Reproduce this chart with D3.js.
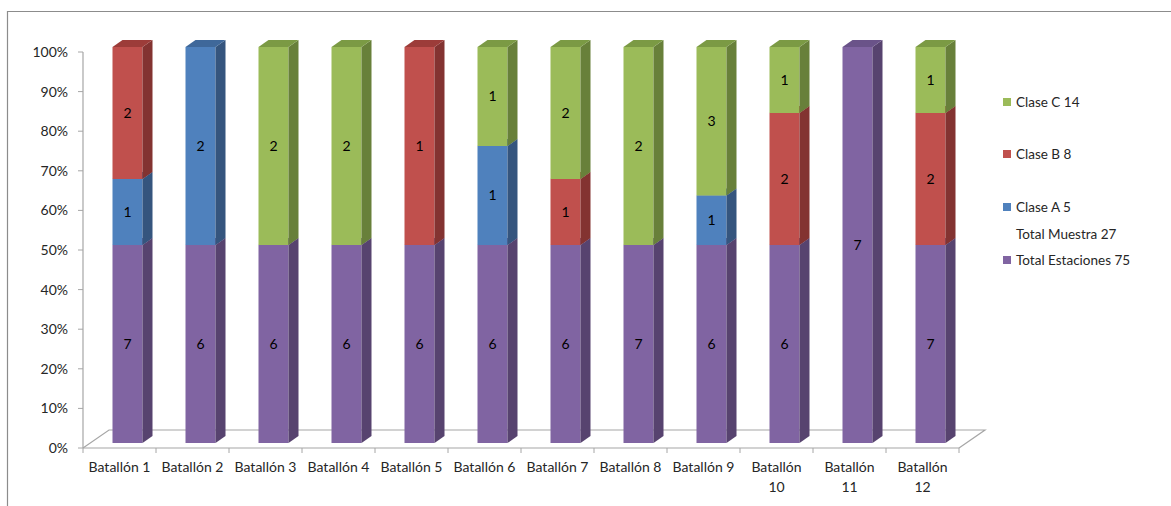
<!DOCTYPE html>
<html>
<head>
<meta charset="utf-8">
<script src="https://cdn.jsdelivr.net/npm/d3@7"></script>
<style>
html,body{margin:0;padding:0;background:#fff;}
svg{display:block;font-family:Lato, "Liberation Sans", sans-serif;}
</style>
</head>
<body>
<svg id="chart" width="1171" height="506"></svg>
<script>
const categories = ["Batallón 1","Batallón 2","Batallón 3","Batallón 4","Batallón 5","Batallón 6","Batallón 7","Batallón 8","Batallón 9","Batallón 10","Batallón 11","Batallón 12"];
const totalEstaciones = [7,6,6,6,6,6,6,7,6,6,7,7];
const claseA = [1,2,0,0,0,1,0,0,1,0,0,0];
const claseB = [2,0,0,0,1,0,1,0,0,2,0,2];
const claseC = [0,0,2,2,0,1,2,2,3,1,0,1];
const yTicks = [0,0.1,0.2,0.3,0.4,0.5,0.6,0.7,0.8,0.9,1];
const legendItems = [
  {label:"Clase C 14", key:"C"},
  {label:"Clase B 8", key:"B"},
  {label:"Clase A 5", key:"A"},
  {label:"Total Muestra 27", key:null},
  {label:"Total Estaciones 75", key:"E"}
];

const colors = {
  E:{front:"#8064A2", side:"#57436F", top:"#6A5389"},
  A:{front:"#4F81BD", side:"#35557E", top:"#3F689A"},
  B:{front:"#C0504D", side:"#833331", top:"#9C3C39"},
  C:{front:"#9BBB59", side:"#68803A", top:"#7B9A44"}
};

// proportions per bar: Total Estaciones occupies half when a sample exists,
// the sample classes share the other half proportionally.
const rows = categories.map((c,i)=>{
  const m = claseA[i]+claseB[i]+claseC[i];
  const e = m>0 ? 0.5 : 1;
  const rest = 1-e;
  return {cat:c, E:e, A: m? rest*claseA[i]/m:0, B: m? rest*claseB[i]/m:0, C: m? rest*claseC[i]/m:0,
          vE:totalEstaciones[i], vA:claseA[i], vB:claseB[i], vC:claseC[i]};
});
const keys = ["E","A","B","C"];
const series = d3.stack().keys(keys)(rows);

const svg = d3.select("#chart");
// frame
svg.append("path").attr("d","M7.5,506 L7.5,11.5 L1171,11.5").attr("fill","none").attr("stroke","#8c8c8c").attr("stroke-width",1.2);

const x0=83, x1=959, yBase=448, yTop=52;
const x = d3.scaleBand().domain(categories).range([x0,x1]).paddingInner(0).paddingOuter(0);
const y = d3.scaleLinear().domain([0,1]).range([yBase,yTop]);

const floorDx=26, floorDy=-18;
const g = svg.append("g");
// floor
g.append("path")
  .attr("d",`M${x0},${yBase} L${x0+floorDx},${yBase+floorDy} L${x1+floorDx},${yBase+floorDy} L${x1},${yBase}`)
  .attr("fill","none").attr("stroke","#a6a6a6").attr("stroke-width",1.2);

// y axis
g.append("line").attr("x1",x0).attr("x2",x0).attr("y1",y(1)).attr("y2",y(0)).attr("stroke","#a6a6a6").attr("stroke-width",1.2);
g.append("line").attr("x1",x0).attr("x2",x1).attr("y1",yBase).attr("y2",yBase).attr("stroke","#a6a6a6").attr("stroke-width",1.2);
g.selectAll(".ytick").data(yTicks).enter().append("line")
  .attr("x1",x0-5).attr("x2",x0).attr("y1",d=>y(d)).attr("y2",d=>y(d)).attr("stroke","#a6a6a6");
g.selectAll(".ylab").data(yTicks).enter().append("text")
  .attr("x",68).attr("y",d=>y(d)).attr("dy","0.35em").attr("text-anchor","end")
  .attr("font-size",14).attr("fill","#262626").text(d=>d3.format(".0%")(d));

// x ticks
const bounds = categories.map(c=>x(c)).concat([x1]);
g.selectAll(".xtick").data(bounds).enter().append("line")
  .attr("x1",d=>d).attr("x2",d=>d).attr("y1",yBase).attr("y2",yBase+5).attr("stroke","#a6a6a6");

// x labels
categories.forEach(c=>{
  const cx = x(c)+x.bandwidth()/2;
  const parts = c.length>10 ? c.split(" ") : [c];
  const t = g.append("text").attr("text-anchor","middle").attr("font-size",14).attr("fill","#262626");
  parts.forEach((p,k)=>{
    t.append("tspan").attr("x",cx).attr("y",472+k*20).text(p);
  });
});

// bars
const barW=30, shiftX=8, shiftY=-5, sdx=10, sdy=-7;
const barsG = g.append("g");
rows.forEach((r,i)=>{
  const left = x(r.cat)+x.bandwidth()/2 - barW/2 + shiftX;
  series.forEach(s=>{
    const d = s[i];
    if (d[1]-d[0] <= 1e-9) return;
    const yb = y(d[0])+shiftY, yt = y(d[1])+shiftY;
    const col = colors[s.key];
    // front
    barsG.append("rect").attr("x",left).attr("y",yt).attr("width",barW).attr("height",yb-yt).attr("fill",col.front);
    // side
    barsG.append("path").attr("d",`M${left+barW},${yb} L${left+barW+sdx},${yb+sdy} L${left+barW+sdx},${yt+sdy} L${left+barW},${yt} Z`).attr("fill",col.side);
    // top
    barsG.append("path").attr("d",`M${left},${yt} L${left+barW},${yt} L${left+barW+sdx},${yt+sdy} L${left+sdx},${yt+sdy} Z`).attr("fill",col.top);
    // label
    barsG.append("text").attr("x",left+barW/2).attr("y",(yb+yt)/2).attr("dy","0.35em")
      .attr("text-anchor","middle").attr("font-size",14).attr("fill","#000")
      .text(r["v"+s.key]);
  });
});

// legend
const legY = [102,154,207,234,260];
const lg = svg.append("g");
legendItems.forEach((it,k)=>{
  if (it.key) lg.append("rect").attr("x",1003).attr("y",legY[k]-4).attr("width",8).attr("height",8).attr("fill",colors[it.key].front);
  lg.append("text").attr("x",1016).attr("y",legY[k]).attr("dy","0.35em").attr("font-size",13.5).attr("fill","#262626").text(it.label);
});
</script>
</body>
</html>
